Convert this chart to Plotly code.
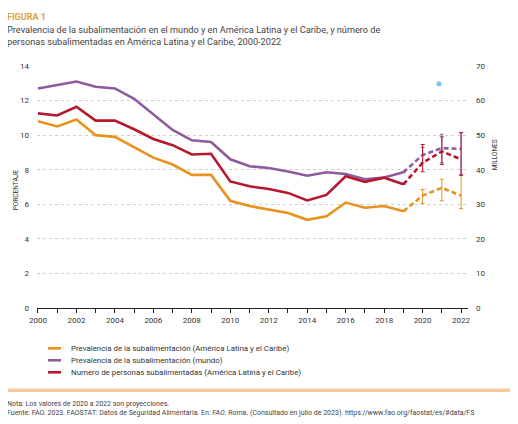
import plotly.graph_objects as go

years = list(range(2000, 2023))
years_hist = years[:20]          # 2000-2019
years_proj = years[19:]          # 2019-2022

# Prevalence of undernourishment, Latin America & Caribbean (%)
lac_pou = [10.8, 10.5, 10.9, 10.0, 9.9, 9.3, 8.7, 8.3, 7.7, 7.7, 6.2, 5.9, 5.7,
           5.5, 5.1, 5.3, 6.1, 5.8, 5.9, 5.6, 6.5, 6.95, 6.5]
lac_pou_hi = [6.85, 7.45, 7.7]
lac_pou_lo = [6.05, 6.2, 5.75]

# Prevalence of undernourishment, world (%)
world_pou = [12.7, 12.9, 13.1, 12.8, 12.7, 12.1, 11.2, 10.3, 9.7, 9.6, 8.6, 8.2, 8.1,
             7.9, 7.65, 7.85, 7.75, 7.45, 7.55, 7.85, 8.85, 9.25, 9.2]
world_pou_hi = [9.3, 10.05, 10.15]
world_pou_lo = [8.4, 8.4, 7.7]

# Number of undernourished people, Latin America & Caribbean (millions)
lac_num = [56.3, 55.7, 58.2, 54.2, 54.2, 51.7, 48.9, 47.1, 44.4, 44.6, 36.6, 35.2, 34.4,
           33.3, 31.1, 32.7, 38.1, 36.5, 37.7, 35.8, 42.0, 45.3, 43.0]
lac_num_hi = [47.3, 49.5, 50.7]
lac_num_lo = [39.4, 41.5, 38.4]

# stray marker seen in the figure
dot_x = [2020.85]
dot_y = [12.98]

x_ticklabels = [str(y) if y % 2 == 0 else "" for y in years]
y_left_ticks = [0, 2, 4, 6, 8, 10, 12, 14]
y_right_ticks = [0, 10, 20, 30, 40, 50, 60, 70]

ORANGE = "#E8931F"
PURPLE = "#8D5B9E"
RED = "#B3192F"

OFF = 8  # page body margin
W, H = 518 - OFF, 424 - OFF
L, R, T, B = 37 - OFF, 468 - OFF, 65.7 - OFF, 307.7 - OFF


def px_x(p):
    return (p - OFF - L) / (R - L)


def px_y(p):
    return (B - (p - OFF)) / (B - T)


fig = go.Figure()


def add_series(vals, color, yaxis, hi, lo):
    fig.add_trace(go.Scatter(
        x=years_hist, y=vals[:20], mode="lines", yaxis=yaxis,
        line=dict(color=color, width=2.6), showlegend=False, hoverinfo="skip"))
    proj = vals[19:]
    plus = [0] + [h - v for h, v in zip(hi, proj[1:])]
    minus = [0] + [v - l for l, v in zip(lo, proj[1:])]
    fig.add_trace(go.Scatter(
        x=years_proj, y=proj, mode="lines", yaxis=yaxis,
        line=dict(color=color, width=2.6, dash="5px,3px"),
        error_y=dict(type="data", symmetric=False, array=plus, arrayminus=minus,
                     color=color, thickness=1, width=2),
        showlegend=False, hoverinfo="skip"))


add_series(lac_pou, ORANGE, "y", lac_pou_hi, lac_pou_lo)
add_series(world_pou, PURPLE, "y", world_pou_hi, world_pou_lo)
add_series(lac_num, RED, "y2", lac_num_hi, lac_num_lo)

fig.add_trace(go.Scatter(x=dot_x, y=dot_y, mode="markers",
                         marker=dict(color="#74C7EC", size=5),
                         showlegend=False, hoverinfo="skip"))

FONT = "Liberation Sans Narrow, Roboto, Arial"

fig.update_layout(
    width=W, height=H,
    margin=dict(l=L, r=W - R, t=T, b=H - B, pad=0),
    paper_bgcolor="white", plot_bgcolor="white",
    font=dict(family=FONT, size=8, color="#333333"),
    xaxis=dict(range=[1999.95, 2022.36], tickvals=years, ticktext=x_ticklabels,
               ticks="outside", ticklen=4, tickcolor="#222", tickwidth=1,
               showline=True, linecolor="#222", linewidth=1.2,
               showgrid=False, zeroline=False,
               tickfont=dict(size=8, color="#333")),
    yaxis=dict(range=[0, 14.0], tickvals=y_left_ticks, showgrid=True,
               gridcolor="#CFCFCF", griddash="dot", gridwidth=1,
               zeroline=False, showline=False, ticks="",
               ticklabelstandoff=7, tickfont=dict(size=8, color="#333")),
    yaxis2=dict(range=[0, 70.0], tickvals=y_right_ticks, overlaying="y", side="right",
                showgrid=False, zeroline=False, showline=False, ticks="",
                ticklabelstandoff=7, tickfont=dict(size=8, color="#333")),
)

ann = []
ann.append(dict(text="<b>FIGURA 1</b>", x=px_x(5), y=px_y(17), xref="paper", yref="paper",
                xanchor="left", yanchor="middle", showarrow=False,
                font=dict(family=FONT, size=9, color="#E0A040")))
ann.append(dict(text="Prevalencia de la subalimentación en el mundo y en América Latina y el Caribe, y número de"
                     "<br>personas subalimentadas en América Latina y el Caribe, 2000-2022",
                x=px_x(5), y=px_y(35), xref="paper", yref="paper", align="left",
                xanchor="left", yanchor="middle", showarrow=False,
                font=dict(family=FONT, size=9.2, color="#444444")))
ann.append(dict(text="PORCENTAJE", x=px_x(16), y=px_y(190), xref="paper", yref="paper",
                textangle=-90, showarrow=False, xanchor="center", yanchor="middle",
                font=dict(family=FONT, size=6.5, color="#333")))
ann.append(dict(text="MILLONES", x=px_x(495), y=px_y(155), xref="paper", yref="paper",
                textangle=-90, showarrow=False, xanchor="center", yanchor="middle",
                font=dict(family=FONT, size=6.5, color="#333")))

legend_items = [
    ("Prevalencia de la subalimentación (América Latina y el Caribe)", ORANGE, 348),
    ("Prevalencia de la subalimentación (mundo)", PURPLE, 360),
    ("Numero de personas subalimentadas (América Latina y el Caribe)", RED, 372),
]
shapes = []
for label, color, ypx in legend_items:
    shapes.append(dict(type="line", xref="paper", yref="paper",
                       x0=px_x(48), x1=px_x(61), y0=px_y(ypx), y1=px_y(ypx),
                       line=dict(color=color, width=2.6)))
    ann.append(dict(text=label, x=px_x(69), y=px_y(ypx), xref="paper", yref="paper",
                    xanchor="left", yanchor="middle", showarrow=False,
                    font=dict(family=FONT, size=7.9, color="#333")))

shapes.append(dict(type="line", xref="paper", yref="paper",
                   x0=px_x(5), x1=px_x(513), y0=px_y(390), y1=px_y(390),
                   line=dict(color="#F6CB9E", width=3.5)))

ann.append(dict(text="Nota: Los valores de 2020 a 2022 son proyecciones.",
                x=px_x(5), y=px_y(404), xref="paper", yref="paper",
                xanchor="left", yanchor="middle", showarrow=False,
                font=dict(family=FONT, size=7.0, color="#444")))
ann.append(dict(text="Fuente: FAO. 2023. FAOSTAT: Datos de Seguridad Alimentaria. En: <i>FAO</i>. Roma. "
                     "(Consultado en julio de 2023). https://www.fao.org/faostat/es/#data/FS",
                x=px_x(5), y=px_y(413), xref="paper", yref="paper",
                xanchor="left", yanchor="middle", showarrow=False,
                font=dict(family=FONT, size=7.0, color="#444")))

fig.update_layout(annotations=ann, shapes=shapes)
fig.write_html("out.html")
